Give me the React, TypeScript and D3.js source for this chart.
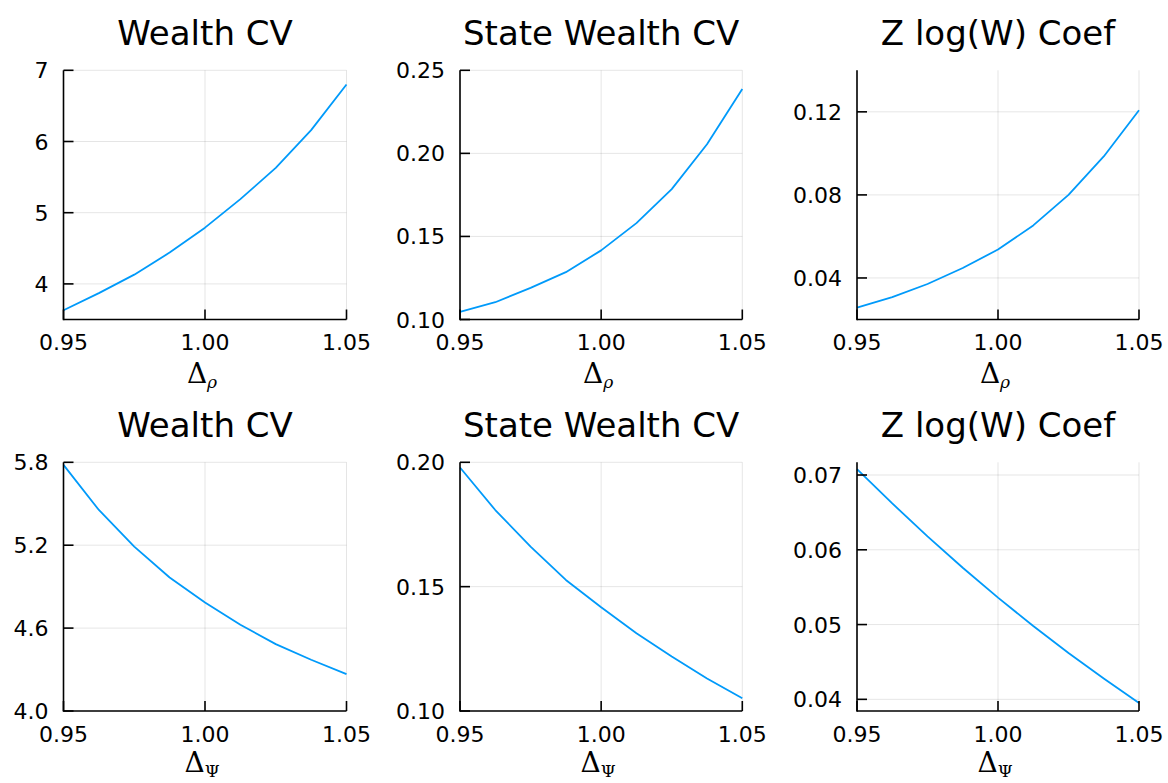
import React from "react";
import * as d3 from "d3";

const deltaGrid = [0.95, 0.9625, 0.975, 0.9875, 1.0, 1.0125, 1.025, 1.0375, 1.05];
const xTicks = [0.95, 1.0, 1.05];

const rhoWealthCV = [3.63, 3.87, 4.13, 4.44, 4.79, 5.19, 5.63, 6.16, 6.8];
const rhoStateCV = [0.1046, 0.1104, 0.119, 0.1285, 0.1416, 0.158, 0.1785, 0.2055, 0.2387];
const rhoZCoef = [0.0257, 0.0308, 0.0371, 0.0448, 0.0537, 0.0653, 0.08, 0.0985, 0.1208];
const psiWealthCV = [5.781, 5.455, 5.19, 4.966, 4.785, 4.624, 4.484, 4.371, 4.267];
const psiStateCV = [0.1979, 0.1808, 0.1661, 0.1527, 0.1417, 0.1313, 0.1219, 0.1131, 0.1051];
const psiZCoef = [0.0708, 0.0662, 0.0618, 0.0576, 0.0536, 0.0498, 0.0462, 0.0428, 0.0395];

const titles = ["Wealth CV", "State Wealth CV", "Z log(W) Coef"];
const subscripts = ["ρ", "Ψ"];

const panels = [
  { row: 0, col: 0, values: rhoWealthCV, domain: [3.5, 7.0], ticks: [4, 5, 6, 7], fmt: "d" },
  { row: 0, col: 1, values: rhoStateCV, domain: [0.1, 0.25], ticks: [0.1, 0.15, 0.2, 0.25], fmt: ".2f" },
  { row: 0, col: 2, values: rhoZCoef, domain: [0.02, 0.14], ticks: [0.04, 0.08, 0.12], fmt: ".2f" },
  { row: 1, col: 0, values: psiWealthCV, domain: [4.0, 5.8], ticks: [4.0, 4.6, 5.2, 5.8], fmt: ".1f" },
  { row: 1, col: 1, values: psiStateCV, domain: [0.1, 0.2], ticks: [0.1, 0.15, 0.2], fmt: ".2f" },
  { row: 1, col: 2, values: psiZCoef, domain: [0.03844, 0.0717], ticks: [0.04, 0.05, 0.06, 0.07], fmt: ".2f" },
];

const colX = [
  [63.5, 346.5],
  [460, 742.3],
  [857, 1139],
];
const rowY = [
  [70.3, 319.5],
  [462.3, 711],
];

const FONT = "'DejaVu Sans', sans-serif";
const SERIF = "'DejaVu Serif', 'Liberation Serif', serif";
const LINE = "#009AFA";
const GRID = "rgba(0,0,0,0.1)";

function Panel({ p }: { p: any }) {
  const [x0, x1] = colX[p.col];
  const [y0, y1] = rowY[p.row];
  const x = d3.scaleLinear().domain([0.95, 1.05]).range([x0, x1]);
  const y = d3.scaleLinear().domain(p.domain).range([y1, y0]);
  const fmt = d3.format(p.fmt);
  const line = d3
    .line<number>()
    .x((_, i) => x(deltaGrid[i]))
    .y((v) => y(v));
  const cx = (x0 + x1) / 2;
  const titleY = p.row === 0 ? 45 : 437;
  const labelY = p.row === 0 ? y1 + 63 : y1 + 61;
  return (
    <g>
      {xTicks.map((t) => (
        <line key={"gx" + t} x1={x(t)} x2={x(t)} y1={y0} y2={y1} stroke={GRID} strokeWidth={1} />
      ))}
      {p.ticks.map((t: number) => (
        <line key={"gy" + t} x1={x0} x2={x1} y1={y(t)} y2={y(t)} stroke={GRID} strokeWidth={1} />
      ))}
      <path d={line(p.values) || ""} fill="none" stroke={LINE} strokeWidth={1.8} strokeLinejoin="round" />
      <line x1={x0} x2={x0} y1={y0} y2={y1 + 0.75} stroke="#000" strokeWidth={1.6} />
      <line x1={x0} x2={x1} y1={y1} y2={y1} stroke="#000" strokeWidth={1.6} />
      {p.ticks.map((t: number) => (
        <g key={"ty" + t}>
          <line x1={x0} x2={x0 + 10} y1={y(t)} y2={y(t)} stroke="#000" strokeWidth={1.6} />
          <text x={x0 - 15} y={y(t) + 8} textAnchor="end" fontFamily={FONT} fontSize={22} fill="#000">
            {fmt(t)}
          </text>
        </g>
      ))}
      {xTicks.map((t) => (
        <g key={"tx" + t}>
          <line x1={x(t)} x2={x(t)} y1={y1} y2={y1 - 10} stroke="#000" strokeWidth={1.6} />
          <text x={x(t)} y={y1 + 30.5} textAnchor="middle" fontFamily={FONT} fontSize={22} fill="#000">
            {d3.format(".2f")(t)}
          </text>
        </g>
      ))}
      <text x={cx} y={titleY} textAnchor="middle" fontFamily={FONT} fontSize={34} fill="#000">
        {titles[p.col]}
      </text>
      <text x={cx - 3} y={labelY} textAnchor="middle" fontFamily={SERIF} fontSize={28} fill="#000">
        Δ
        <tspan fontSize={17} dy={5} fontStyle={p.row === 0 ? "italic" : "normal"}>
          {subscripts[p.row]}
        </tspan>
      </text>
    </g>
  );
}

export default function App() {
  return (
    <svg
      width={1168}
      height={783}
      viewBox="0 0 1168 783"
      style={{ position: "absolute", left: 0, top: 0, display: "block", background: "#fff" }}
    >
      <rect x={0} y={0} width={1168} height={783} fill="#fff" />
      {panels.map((p, i) => (
        <Panel key={i} p={p} />
      ))}
    </svg>
  );
}
